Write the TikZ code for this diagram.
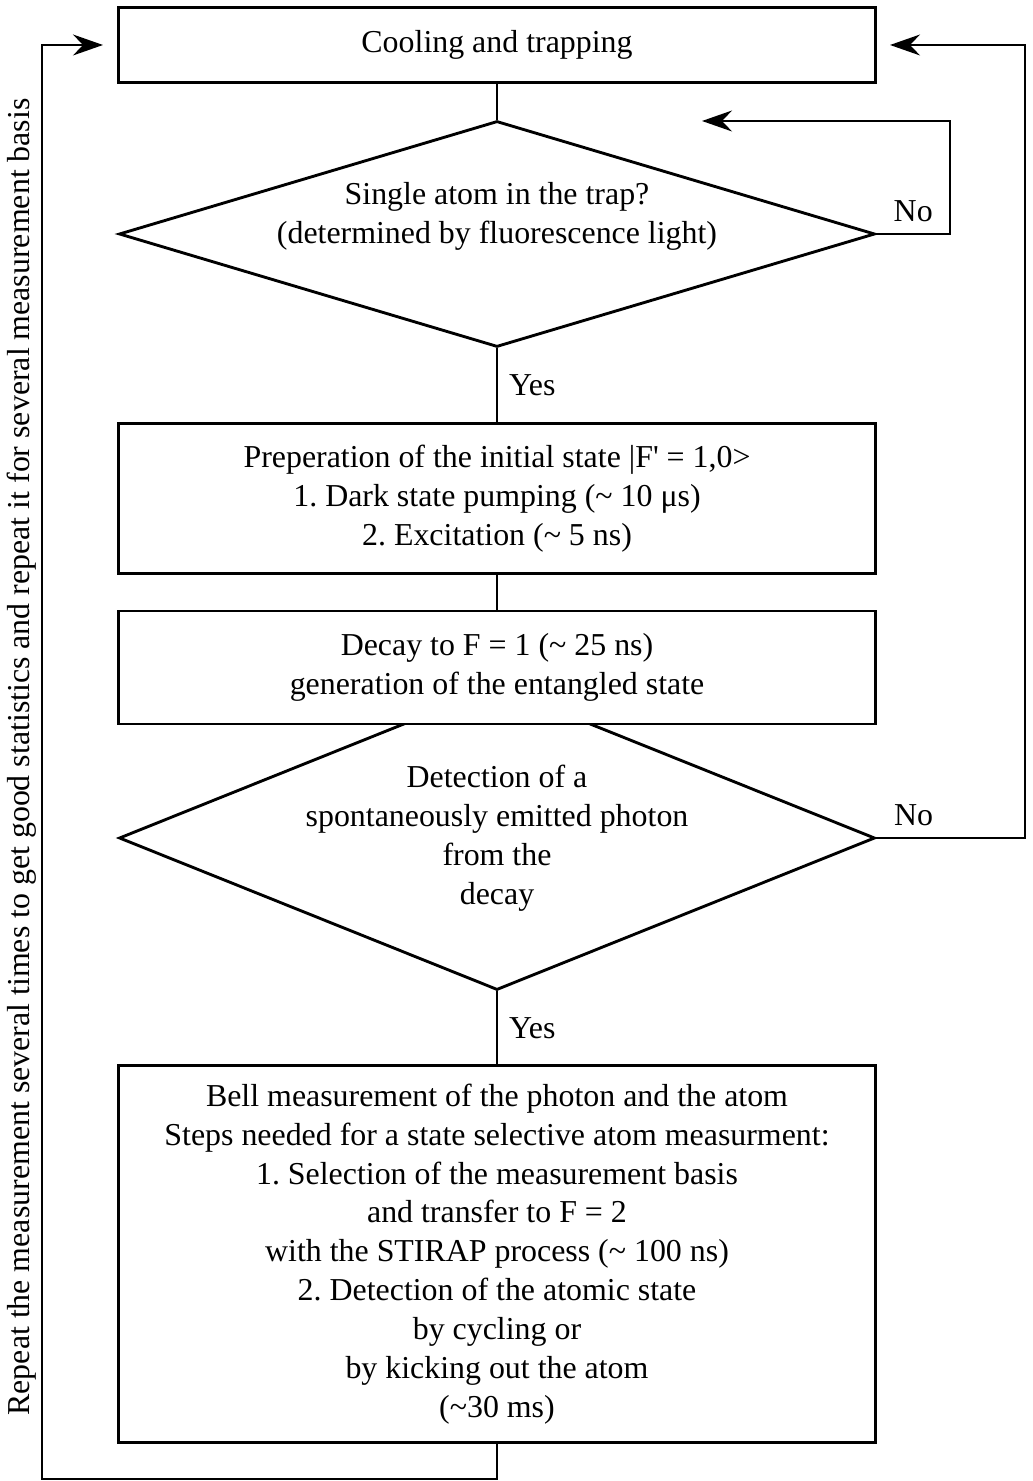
\documentclass[tikz,border=0pt]{standalone}
\usepackage{fontspec}
\setmainfont{Liberation Serif}
\usetikzlibrary{shapes.geometric}
\usetikzlibrary{arrows.meta}
\frenchspacing

\begin{document}
\begin{tikzpicture}[x=0.1102mm, y=-0.1102mm, line width=0.9pt,
  >={Stealth[length=3.3mm,width=2.3mm,inset=1.1mm]},
  txt/.style={font=\fontsize{10}{12.2}\selectfont, align=center},
  block/.style={rectangle, draw, fill=white, minimum width=83.4mm, minimum height=#1, inner sep=0pt, txt},
  decision/.style={diamond, draw, minimum width=83.3mm, minimum height=#1, inner sep=0pt}]
\useasboundingbox (0,0) rectangle (1032,1481);

% boxes and decisions
\node [block=8.3mm] (cool) at (497,45) {Cooling and trapping};
\node [decision=24.9mm] (single) at (497,234) {};
\node [txt] (singletext) at (497,216) {Single atom in the trap?\\(determined by fluorescence light)};
\node [block=16.6mm] (prep) at (497,498.5) {Preperation of the initial state |F\textquotesingle{} = 1,0>\\1. Dark state pumping (\textasciitilde{} 10 μs)\\2. Excitation (\textasciitilde{} 5 ns)};
\node [decision=33.5mm] (photon) at (497,838) {};
\node [block=12.45mm] (decay) at (497,667.5) {Decay to F = 1 (\textasciitilde{} 25 ns)\\generation of the entangled state};
\node [txt] (photontext) at (497,838) {Detection of a\\spontaneously emitted photon\\from the\\decay};
\node [block=41.5mm] (bell) at (497,1254) {Bell measurement of the photon and the atom\\Steps needed for a state selective atom measurment:\\1. Selection of the measurement basis\\and transfer to F = 2\\with the STIRAP process (\textasciitilde{} 100 ns)\\2. Detection of the atomic state\\by cycling or\\by kicking out the atom\\(\textasciitilde30 ms)};

\node [txt, rotate=90] (repeat) at (22,757) {Repeat the measurement several times to get good statistics and repeat it for several measurement basis};

% arrow ends
\coordinate (back1) at (702,121);
\coordinate (back2) at (890,45);
\coordinate (back3) at (103,45);

% flow
\draw (cool) -- (single);
\draw (single) -- node[txt, right] {Yes} (prep);
\draw (prep) -- (decay);
\draw (photon) -- node[txt, right] {Yes} (bell);

% loops
\draw [->] (single.east) -- node[txt, above] {No} (950,234) |- (back1);
\draw [->] (photon.east) -- node[txt, above, pos=0.25] {No} (1025,838) |- (back2);
\draw [->] (bell.south) |- (42,1479) |- (back3);

\end{tikzpicture}
\end{document}
